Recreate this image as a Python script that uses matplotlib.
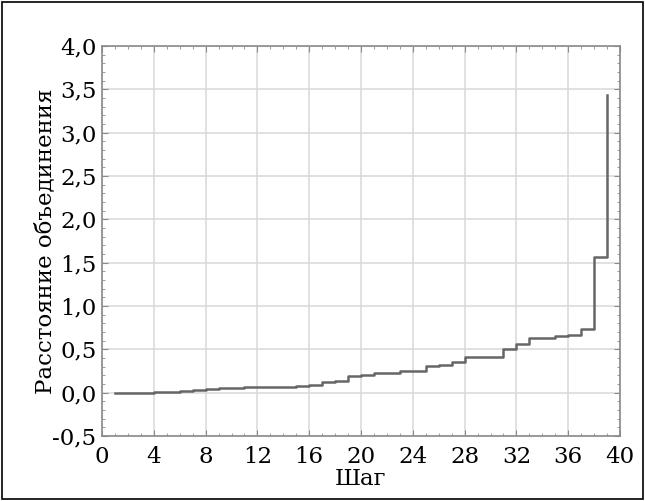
import matplotlib
matplotlib.use('Agg')
import matplotlib.pyplot as plt
from matplotlib.ticker import MultipleLocator, FuncFormatter
from matplotlib.patches import Rectangle

# Шаги объединения и расстояния объединения
shagi = list(range(1, 40))
rasstoyaniya = [0.0, 0.0, 0.0, 0.005, 0.008, 0.02, 0.035, 0.045, 0.057, 0.058,
                0.06, 0.062, 0.068, 0.07, 0.072, 0.085, 0.12, 0.14, 0.195, 0.2,
                0.225, 0.232, 0.245, 0.255, 0.31, 0.32, 0.355, 0.408, 0.41, 0.412,
                0.5, 0.565, 0.628, 0.632, 0.655, 0.667, 0.735, 1.57, 3.44]

x_ticks = list(range(0, 41, 4))
y_ticks = [-0.5, 0.0, 0.5, 1.0, 1.5, 2.0, 2.5, 3.0, 3.5, 4.0]

plt.rcParams['font.family'] = ['DejaVu Serif']

fig = plt.figure(figsize=(6.45, 5.01), dpi=100)
ax = fig.add_axes([102 / 645, 65 / 501, 518 / 645, 390 / 501])

# Рамка вокруг всего рисунка
fig.patches.append(Rectangle((0.003, 0.004), 0.994, 0.992, transform=fig.transFigure,
                             fill=False, edgecolor='black', linewidth=1.2))

ax.plot(shagi, rasstoyaniya, drawstyle='steps-post', color='#666666', linewidth=1.8)

ax.set_xlim(0, 40)
ax.set_ylim(-0.5, 4.0)
ax.set_xticks(x_ticks)
ax.set_yticks(y_ticks)
ax.xaxis.set_minor_locator(MultipleLocator(1))
ax.yaxis.set_minor_locator(MultipleLocator(0.1))

ax.yaxis.set_major_formatter(FuncFormatter(lambda v, p: f'{v:.1f}'.replace('.', ',')))

ax.grid(True, which='major', color='#d9d9d9', linewidth=1.1)
ax.set_axisbelow(True)
for s in ax.spines.values():
    s.set_color('#8a8a8a')
    s.set_linewidth(1.2)

ax.tick_params(which='both', direction='in', top=True, right=True, color='#8a8a8a')
ax.tick_params(which='major', length=4, labelsize=16.5, pad=4)
ax.tick_params(which='minor', length=2)
ax.tick_params(axis='x', which='major', pad=7)

ax.set_xlabel('Шаг', fontsize=16.5, labelpad=0)
ax.set_ylabel('Расстояние объединения', fontsize=16.5, labelpad=-3)

plt.savefig('out.png', dpi=100)
